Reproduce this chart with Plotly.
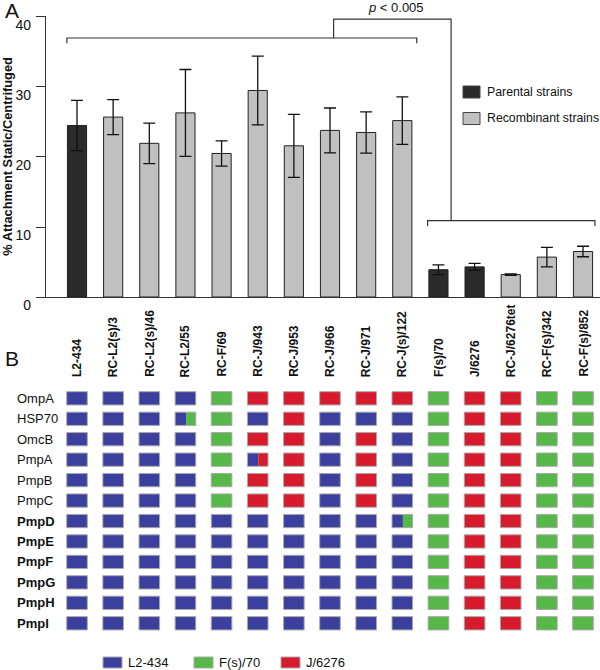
import plotly.graph_objects as go

# ---------------- data ----------------
strains = ["L2-434", "RC-L2(s)/3", "RC-L2(s)/46", "RC-L2/55", "RC-F/69", "RC-J/943",
           "RC-J/953", "RC-J/966", "RC-J/971", "RC-J(s)/122", "F(s)/70", "J/6276",
           "RC-J/6276tet", "RC-F(s)/342", "RC-F(s)/852"]
attachment = [24.5, 25.7, 21.95, 26.3, 20.5, 29.5, 21.6, 23.8, 23.5, 25.2, 3.9, 4.3, 3.2, 5.7, 6.5]
attachment_err = [3.6, 2.5, 2.9, 6.2, 1.8, 4.9, 4.5, 3.2, 2.95, 3.4, 0.7, 0.5, 0.1, 1.4, 0.75]
strain_type = ["P", "R", "R", "R", "R", "R", "R", "R", "R", "R", "P", "P", "R", "R", "R"]

genes = ["OmpA", "HSP70", "OmcB", "PmpA", "PmpB", "PmpC", "PmpD", "PmpE", "PmpF", "PmpG", "PmpH", "PmpI"]
genes_bold = [False] * 6 + [True] * 6
genotype = [
    ["L", "L", "L", "L", "F", "J", "J", "J", "J", "J", "F", "J", "J", "F", "F"],   # OmpA
    ["L", "L", "L", "LF", "F", "L", "J", "L", "L", "L", "F", "J", "J", "F", "F"],  # HSP70
    ["L", "L", "L", "L", "F", "J", "J", "L", "J", "L", "F", "J", "J", "F", "F"],   # OmcB
    ["L", "L", "L", "L", "F", "LJ", "J", "L", "J", "L", "F", "J", "J", "F", "F"],  # PmpA
    ["L", "L", "L", "L", "F", "J", "J", "L", "J", "L", "F", "J", "J", "F", "F"],   # PmpB
    ["L", "L", "L", "L", "F", "J", "J", "L", "J", "L", "F", "J", "J", "F", "F"],   # PmpC
    ["L", "L", "L", "L", "L", "L", "L", "L", "L", "LF", "F", "J", "J", "F", "F"],  # PmpD
    ["L", "L", "L", "L", "L", "L", "L", "L", "L", "L", "F", "J", "J", "F", "F"],   # PmpE
    ["L", "L", "L", "L", "L", "L", "L", "L", "L", "L", "F", "J", "J", "F", "F"],   # PmpF
    ["L", "L", "L", "L", "L", "L", "L", "L", "L", "L", "F", "J", "J", "F", "F"],   # PmpG
    ["L", "L", "L", "L", "L", "L", "L", "L", "L", "L", "F", "J", "J", "F", "F"],   # PmpH
    ["L", "L", "L", "L", "L", "L", "L", "L", "L", "L", "F", "J", "J", "F", "F"],   # PmpI
]
split_fraction = 0.53
origin_names = {"L": "L2-434", "F": "F(s)/70", "J": "J/6276"}

# significance bracket (data units)
group1_span = [-0.28, 9.4]
group2_span = [9.7, 14.33]
group1_y, group2_y = 37.0, 10.9
bracket_top = 39.7
connector_x = [7.1, 10.35]
p_label = "<i>p</i> &lt; 0.005"

# ---------------- styles ----------------
W, H = 600, 670
FONT = "Liberation Sans, Arial, sans-serif"
col_par, col_rec = "#2b2b2b", "#c0c0c0"
origin_colors = {"L": "#3b3f9d", "F": "#55b848", "J": "#d71a2c"}
cell_border = "#a8a8a8"

def px_x(p):
    return p / W

def px_y(p):
    return (H - p) / H

fig = go.Figure()

for t, name, col in [("P", "Parental strains", col_par), ("R", "Recombinant strains", col_rec)]:
    idx = [i for i, s in enumerate(strain_type) if s == t]
    fig.add_trace(go.Bar(
        x=idx, y=[attachment[i] for i in idx], name=name, width=0.53,
        marker=dict(color=col, line=dict(color="#222222", width=1)),
        error_y=dict(type="data", array=[attachment_err[i] for i in idx],
                     color="#111111", thickness=1.3, width=6),
        showlegend=False, hoverinfo="skip", xaxis="x", yaxis="y"))

shapes = []
line_st = dict(color="#333333", width=1.2)
# brackets
for (a, b), yv in [(group1_span, group1_y), (group2_span, group2_y)]:
    drop = 0.75
    shapes.append(dict(type="path", xref="x", yref="y",
                       path=f"M {a},{yv - drop} L {a},{yv} L {b},{yv} L {b},{yv - drop}",
                       line=line_st))
shapes.append(dict(type="path", xref="x", yref="y",
                   path=f"M {connector_x[0]},{group1_y} L {connector_x[0]},{bracket_top} "
                        f"L {connector_x[1]},{bracket_top} L {connector_x[1]},{group2_y}",
                   line=line_st))

# genotype grid
hw, hh = 0.285, 0.325
for r, row in enumerate(genotype):
    for c, code in enumerate(row):
        if len(code) == 1:
            shapes.append(dict(type="rect", xref="x2", yref="y2", x0=c - hw, x1=c + hw,
                               y0=r - hh, y1=r + hh, fillcolor=origin_colors[code],
                               line=dict(color=cell_border, width=1)))
        else:
            xm = c - hw + 2 * hw * split_fraction
            shapes.append(dict(type="rect", xref="x2", yref="y2", x0=c - hw, x1=xm,
                               y0=r - hh, y1=r + hh, fillcolor=origin_colors[code[0]],
                               line=dict(width=0)))
            shapes.append(dict(type="rect", xref="x2", yref="y2", x0=xm, x1=c + hw,
                               y0=r - hh, y1=r + hh, fillcolor=origin_colors[code[1]],
                               line=dict(width=0)))
            shapes.append(dict(type="rect", xref="x2", yref="y2", x0=c - hw, x1=c + hw,
                               y0=r - hh, y1=r + hh, fillcolor="rgba(0,0,0,0)",
                               line=dict(color=cell_border, width=1)))

annotations = []
# panel letters
annotations.append(dict(text="A", x=px_x(3), y=px_y(-3), xref="paper", yref="paper",
                        xanchor="left", yanchor="top", showarrow=False,
                        font=dict(family=FONT, size=21, color="#111")))
annotations.append(dict(text="B", x=px_x(3), y=px_y(345), xref="paper", yref="paper",
                        xanchor="left", yanchor="top", showarrow=False,
                        font=dict(family=FONT, size=21, color="#111")))
annotations.append(dict(text=p_label, x=(connector_x[0] + connector_x[1]) / 2 + 0.1,
                        y=px_y(7), xref="x", yref="paper",
                        xanchor="center", yanchor="middle", showarrow=False,
                        font=dict(family=FONT, size=13, color="#111")))

# strain labels
for i, s in enumerate(strains):
    annotations.append(dict(text=f"<b>{s}</b>", x=i, y=px_y(379), xref="x", yref="paper",
                            xanchor="center", yanchor="bottom", textangle=-90,
                            showarrow=False, font=dict(family=FONT, size=12, color="#111")))
# gene labels
for r, g in enumerate(genes):
    annotations.append(dict(text=f"<b>{g}</b>" if genes_bold[r] else g, x=px_x(15), y=r,
                            xref="paper", yref="y2", xanchor="left", yanchor="middle",
                            showarrow=False, font=dict(family=FONT, size=13, color="#111")))

# top legend
for (name, col), yc in zip([("Parental strains", col_par), ("Recombinant strains", col_rec)], [92, 118.5]):
    shapes.append(dict(type="rect", xref="paper", yref="paper", x0=px_x(463), x1=px_x(480),
                       y0=px_y(yc - 6), y1=px_y(yc + 6), fillcolor=col,
                       line=dict(color="#444444", width=1)))
    annotations.append(dict(text=name, x=px_x(485), y=px_y(yc), xref="paper", yref="paper",
                            xanchor="left", yanchor="middle", showarrow=False,
                            font=dict(family=FONT, size=12.3, color="#111")))

# bottom legend
for code, x0 in [("L", 103), ("F", 194), ("J", 281)]:
    shapes.append(dict(type="rect", xref="paper", yref="paper", x0=px_x(x0), x1=px_x(x0 + 19),
                       y0=px_y(657), y1=px_y(668), fillcolor=origin_colors[code],
                       line=dict(color=cell_border, width=1)))
    annotations.append(dict(text=origin_names[code], x=px_x(x0 + 23), y=px_y(662.5),
                            xref="paper", yref="paper", xanchor="left", yanchor="middle",
                            showarrow=False, font=dict(family=FONT, size=13, color="#111")))

xrange = [-0.858, 14.47]
fig.update_layout(
    width=W, height=H, margin=dict(l=0, r=0, t=0, b=0, autoexpand=False),
    paper_bgcolor="white", plot_bgcolor="white",
    font=dict(family=FONT, color="#111"),
    shapes=shapes, annotations=annotations, bargap=0.3, hovermode=False,
    xaxis=dict(domain=[px_x(46), 1], range=xrange, showticklabels=False, ticks="",
               automargin=False, fixedrange=True,
               showgrid=False, zeroline=False, showline=True, linecolor="#333333", linewidth=1.2),
    yaxis=dict(domain=[px_y(297), px_y(16)], range=[0, 40.14], tickvals=[0, 10, 20, 30, 40],
               automargin=False, fixedrange=True,
               ticks="outside", ticklen=9, tickcolor="#333333", tickwidth=1.2,
               ticklabelshift=8, ticklabelstandoff=2,
               tickfont=dict(family=FONT, size=14, color="#111"),
               showgrid=False, zeroline=False, showline=True, linecolor="#333333", linewidth=1.2,
               title=dict(text="<b>% Attachment Static/Centrifuged</b>",
                          font=dict(family=FONT, size=12.8, color="#111"), standoff=8)),
    xaxis2=dict(domain=[px_x(46), 1], range=xrange, visible=False, anchor="y2",
                automargin=False, fixedrange=True),
    yaxis2=dict(domain=[px_y(633.5), px_y(388.1)], range=[11.5, -0.5], visible=False,
                anchor="x2", automargin=False, fixedrange=True),
)

fig.write_html("out.html", config={"displayModeBar": False},
               post_script="document.body.style.margin='0px';")
